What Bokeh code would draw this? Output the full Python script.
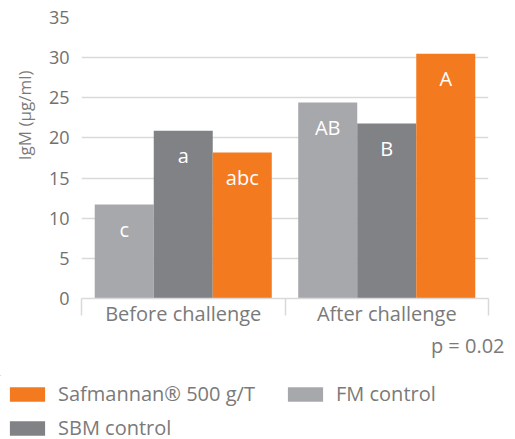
from bokeh.plotting import figure
from bokeh.layouts import column
from bokeh.models import (ColumnDataSource, Range1d, FixedTicker, Legend, LegendItem, Title)
from bokeh.transform import dodge
from bokeh.core.properties import value
from bokeh.embed import file_html
from bokeh.resources import INLINE

# ---- data ----
groups = ["Before challenge", "After challenge"]
fm_values = [11.7, 24.4]
sbm_values = [20.9, 21.8]
saf_values = [18.2, 30.5]
fm_letters = ["c", "AB"]
sbm_letters = ["a", "B"]
saf_letters = ["abc", "A"]
y_ticks = [0, 5, 10, 15, 20, 25, 30, 35]
series_names = ["FM control", "SBM control", "Safmannan® 500 g/T"]
p_text = "p = 0.02"
y_label = "IgM (µg/ml)"

FONT = "Open Sans"
C_FM = "#a7a8ab"
C_SBM = "#818285"
C_SAF = "#f47a20"
TXT = "#7a7a7a"
GRID = "#d9d9d9"
W = 0.29

centers = [i + 0.5 for i in range(len(groups))]
edges = [i for i in range(len(groups) + 1)]

src = ColumnDataSource(dict(xc=centers, fm=fm_values, sbm=sbm_values, saf=saf_values,
                            fml=fm_letters, sbml=sbm_letters, safl=saf_letters))

p = figure(x_range=Range1d(0, len(groups)), y_range=Range1d(0, y_ticks[-1]),
           width=515, height=375, output_backend="svg", toolbar_location=None,
           min_border_left=75, min_border_right=27,
           min_border_top=17, min_border_bottom=77)
p.outline_line_color = None

offsets = [-W, 0, W]
cols = [("fm", "fml", C_FM), ("sbm", "sbml", C_SBM), ("saf", "safl", C_SAF)]
for (col, lab, color), off in zip(cols, offsets):
    p.vbar(x=dodge("xc", off), top=col, width=W, source=src,
           fill_color=color, line_color=None)
    p.text(x=dodge("xc", off), y=col, text=lab, source=src,
           text_align="center", text_baseline="alphabetic", y_offset=25,
           text_color="white", text_font=value(FONT), text_font_size="20px")

# y axis
yt = FixedTicker(ticks=y_ticks)
p.yaxis.ticker = yt
p.yaxis.axis_line_color = None
p.yaxis.major_tick_line_color = None
p.yaxis.minor_tick_line_color = None
p.yaxis.major_tick_out = 0
p.yaxis.major_label_standoff = 12
p.yaxis.major_label_text_font = FONT
p.yaxis.major_label_text_font_size = "18px"
p.yaxis.major_label_text_color = "#707070"
p.ygrid.ticker = yt
p.ygrid.grid_line_color = GRID
p.ygrid.grid_line_width = 1.5
p.xgrid.visible = False

p.add_layout(Title(text=y_label, align="right", offset=53, standoff=20,
                   text_font=FONT, text_font_size="17px", text_font_style="normal",
                   text_color=TXT), "left")

# x axis
xax = p.xaxis[0]
xax.ticker = FixedTicker(ticks=centers, minor_ticks=edges)
xax.major_label_overrides = {c: g for c, g in zip(centers, groups)}
xax.major_tick_line_color = None
xax.major_tick_out = 0
xax.major_tick_in = 0
xax.minor_tick_out = 17
xax.minor_tick_in = 0
xax.minor_tick_line_color = GRID
xax.minor_tick_line_width = 1.5
xax.axis_line_color = GRID
xax.axis_line_width = 1.5
xax.major_label_standoff = -16
xax.major_label_text_font = FONT
xax.major_label_text_font_size = "20px"
xax.major_label_text_color = TXT

# p value
p.add_layout(Title(text=p_text, align="right", offset=-16, standoff=0,
                   text_font=FONT, text_font_size="20px", text_font_style="normal",
                   text_color=TXT), "below")

# legend (separate strip below the chart); its bars lie outside its visible ranges
lg = figure(x_range=Range1d(10, 11), y_range=Range1d(-2, -1), width=515, height=64,
            output_backend="svg", toolbar_location=None,
            x_axis_location=None, y_axis_location=None, min_border=0)
if "frame_align" in lg.properties():
    lg.frame_align = False
    p.frame_align = False
lg.outline_line_color = None
lg.grid.visible = False
l_fm = lg.vbar(x="xc", top="fm", width=W, source=src, fill_color=C_FM, line_color=None)
l_sbm = lg.vbar(x="xc", top="sbm", width=W, source=src, fill_color=C_SBM, line_color=None)
l_saf = lg.vbar(x="xc", top="saf", width=W, source=src, fill_color=C_SAF, line_color=None)
legend = Legend(items=[LegendItem(label=series_names[2], renderers=[l_saf]),
                       LegendItem(label=series_names[0], renderers=[l_fm]),
                       LegendItem(label=series_names[1], renderers=[l_sbm])],
                location=(5, -2), ncols=2, orientation="horizontal",
                glyph_width=44, glyph_height=18, label_standoff=9,
                label_height=18, label_width=218, spacing=7,
                label_text_font=FONT, label_text_font_size="20px", label_text_color=TXT,
                padding=0, margin=0, border_line_color=None, background_fill_alpha=0)
lg.add_layout(legend, "center")

layout = column(p, lg, spacing=0)
open("out.html", "w").write(file_html(layout, INLINE))
